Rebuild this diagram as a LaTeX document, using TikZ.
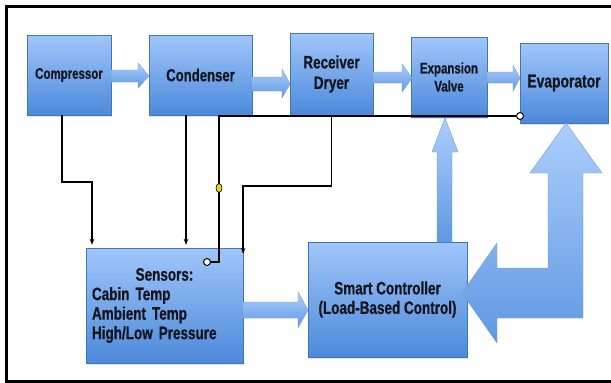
\documentclass[tikz,border=0pt]{standalone}
\usepackage{fontspec}
\setmainfont{Liberation Sans}[FakeStretch=0.75, BoldFeatures={FakeBold=0.8}]
\usetikzlibrary{arrows.meta,shadows,shapes.geometric}

\definecolor{boxtop}{RGB}{160,198,250}
\definecolor{boxbot}{RGB}{76,137,218}
\definecolor{arrtop}{RGB}{172,206,252}
\definecolor{arrbot}{RGB}{96,152,226}
\definecolor{arredge}{RGB}{112,158,218}
\definecolor{labeltext}{RGB}{22,22,32}
\definecolor{probe}{RGB}{240,208,30}

\begin{document}
\begin{tikzpicture}[x=1pt, y=-1pt,
    block/.style={rectangle, draw=boxbot!85!black, line width=0.3pt,
      top color=boxtop, bottom color=boxbot, text=labeltext,
      align=center, inner sep=2pt,
      drop shadow={opacity=0.22, shadow xshift=1pt, shadow yshift=-1.5pt}},
    fat/.style={draw=arredge, line width=0.4pt,
      top color=arrtop, bottom color=arrbot},
    wire/.style={line width=1.8pt, black},
    tip/.style={-{Stealth[length=6pt, width=4.5pt]}},
    port/.style={circle, draw=black, line width=1pt, fill=white,
      inner sep=0pt, minimum size=7pt}]

  % page and outer frame (right edge runs off the page)
  \clip (0,0) rectangle (611,383);
  \draw[line width=3pt] (6.5,6.5) rectangle (640,381.5);

  % === Refrigerant loop (top row) ===
  \node[block, minimum width=84, minimum height=80,
    font=\bfseries\fontsize{15.3}{17}\selectfont] (comp) at (69,75) {Compressor};
  \node[block, minimum width=103, minimum height=80,
    font=\bfseries\fontsize{17.5}{19}\selectfont] (cond) at (200.5,75) {Condenser};
  \node[block, minimum width=83, minimum height=82,
    font=\bfseries\fontsize{18}{20.5}\selectfont] (recv) at (331.5,74) {Receiver\\Dryer};
  \node[block, minimum width=76, minimum height=80,
    font=\bfseries\fontsize{15.3}{18}\selectfont] (expv) at (449,77) {Expansion\\Valve};
  \node[block, minimum width=88, minimum height=80,
    font=\bfseries\fontsize{18.5}{20}\selectfont] (evap) at (564,83) {Evaporator};

  % === Control part (bottom row) ===
  \node[block, minimum height=115, text width=145, inner xsep=6pt, align=left,
    font=\bfseries\fontsize{18}{19.5}\selectfont] (sens) at (164.5,305.5)
    {\makebox[145pt]{Sensors:}\\Cabin Temp\\Ambient Temp\\High/Low Pressure};
  \node[block, minimum width=159, minimum height=115,
    font=\bfseries\fontsize{18}{19.5}\selectfont] (ctrl) at (387.5,299.5)
    {Smart Controller\\(Load-Based Control)};

  % --- Block arrows along the loop ---
  \path[fat] (111,70) -- (138,70) -- (138,63) -- (149,76)
    -- (138,88) -- (138,82) -- (111,82) -- cycle;
  \path[fat] (252,77) -- (282,77) -- (282,69) -- (290,84)
    -- (282,98) -- (282,91) -- (252,91) -- cycle;
  \path[fat] (373,72) -- (402,72) -- (402,64) -- (412,78)
    -- (402,92) -- (402,83) -- (373,83) -- cycle;
  \path[fat] (487,72) -- (513,72) -- (513,65) -- (520,78)
    -- (513,91) -- (513,83) -- (487,83) -- cycle;

  % sensors -> controller
  \path[fat] (243,302) -- (298,302) -- (298,292) -- (308,310)
    -- (298,328) -- (298,318) -- (243,318) -- cycle;

  % controller -> expansion valve
  \path[fat] (437,242) -- (437,152) -- (432,152) -- (445,118)
    -- (458,152) -- (452,152) -- (452,242) -- cycle;

  % controller <-> evaporator (L-shaped, two heads)
  \path[fat] (462,293) -- (497,243) -- (497,268) -- (548,268)
    -- (548,173) -- (530,173) -- (566,123) -- (602,173)
    -- (583,173) -- (583,318) -- (497,318) -- (497,343) -- cycle;

  % --- Sensor wires ---
  \node[port] (senport) at (207,262) {};
  \node[port] (evport) at (520,116) {};
  \coordinate (bend) at (219,116);

  \draw[wire, tip] ([xshift=-7pt]comp.south) -- ++(0,67)
    -| ([xshift=-72.5pt, yshift=3pt]sens.north);
  \draw[wire, tip] ([xshift=-14.5pt]cond.south)
    -- ([xshift=21.5pt, yshift=3pt]sens.north);
  \draw[wire, tip] (recv.south) -- ++(0,71)
    -| ([yshift=-6pt]sens.north east);
  \draw[wire] (senport.east) -| (bend) -- (evport.west);

  % pressure probe on the suction line
  \node[ellipse, draw=black, line width=0.6pt, fill=probe,
    minimum width=6pt, minimum height=9pt, inner sep=0pt] (probe) at (219,188) {};

\end{tikzpicture}
\end{document}
